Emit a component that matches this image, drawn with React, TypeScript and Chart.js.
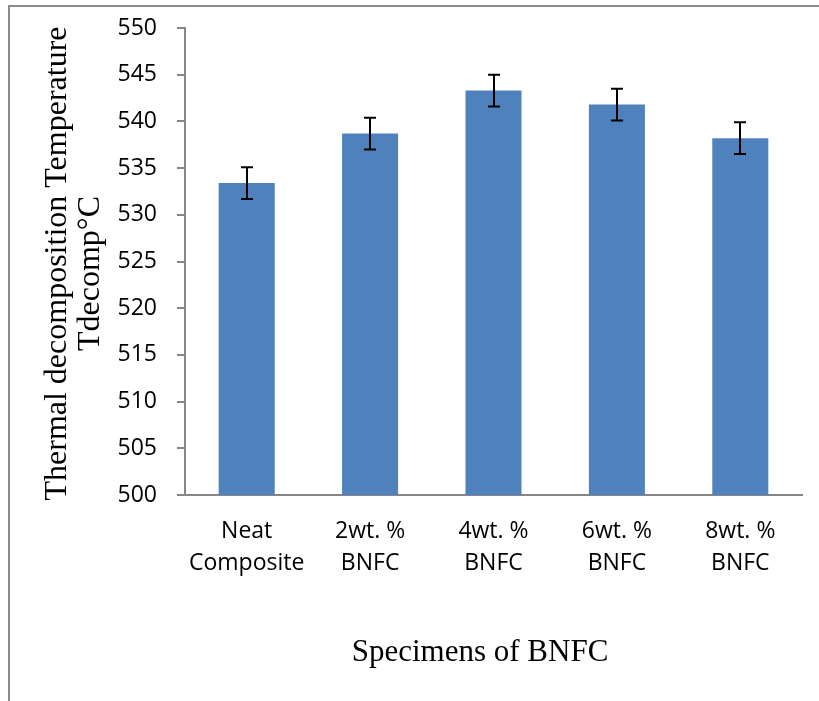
import React, { useEffect, useRef } from "react";
import { Chart, registerables } from "chart.js";

Chart.register(...registerables);

// Specimen groups (two-line category labels)
const categories: string[][] = [
  ["Neat", "Composite"],
  ["2wt. %", "BNFC"],
  ["4wt. %", "BNFC"],
  ["6wt. %", "BNFC"],
  ["8wt. %", "BNFC"],
];

// Thermal decomposition temperature (°C) and its error
const tdecomp: number[] = [533.4, 538.7, 543.3, 541.8, 538.2];
const tdecompError: number[] = [1.7, 1.7, 1.7, 1.7, 1.7];

// Y axis range
const yMin = 500;
const yMax = 550;
const yStep = 5;

const xTitle = "Specimens of BNFC";
const yTitleLines: string[] = ["Thermal decomposition Temperature", "Tdecomp°C"];

const AXIS_GRAY = "#868686";
const BAR_BLUE = "#4F81BD";
const SANS = "'Open Sans', 'Noto Sans', sans-serif";
const SERIF = "'Liberation Serif', 'DejaVu Serif', serif";

const errorBarPlugin = {
  id: "errorBars",
  afterDatasetsDraw(chart: any) {
    const { ctx } = chart;
    const meta = chart.getDatasetMeta(0);
    const yScale = chart.scales.y;
    ctx.save();
    ctx.strokeStyle = "#000";
    ctx.lineWidth = 2;
    meta.data.forEach((bar: any, i: number) => {
      const v = tdecomp[i];
      const e = tdecompError[i];
      const x = Math.round(bar.x);
      const yTop = yScale.getPixelForValue(v + e);
      const yBot = yScale.getPixelForValue(v - e);
      const cap = 6;
      ctx.beginPath();
      ctx.moveTo(x, yTop);
      ctx.lineTo(x, yBot);
      ctx.moveTo(x - cap, yTop);
      ctx.lineTo(x + cap, yTop);
      ctx.moveTo(x - cap, yBot);
      ctx.lineTo(x + cap, yBot);
      ctx.stroke();
    });
    ctx.restore();
  },
};

const titlesAndFramePlugin = {
  id: "titlesAndFrame",
  afterDraw(chart: any) {
    const { ctx, chartArea } = chart;
    ctx.save();
    // outer frame
    ctx.strokeStyle = "#8c8c8c";
    ctx.lineWidth = 2;
    ctx.beginPath();
    ctx.moveTo(9, chart.height + 5);
    ctx.lineTo(9, 6);
    ctx.lineTo(chart.width + 5, 6);
    ctx.stroke();

    // x axis title
    ctx.fillStyle = "#000";
    ctx.font = `31px ${SERIF}`;
    ctx.textAlign = "center";
    ctx.textBaseline = "alphabetic";
    ctx.fillText(xTitle, 480, 661);

    // y axis title (rotated, two lines)
    const midY = (chartArea.top + chartArea.bottom) / 2;
    ctx.font = `32px ${SERIF}`;
    ctx.save();
    ctx.translate(66, midY + 2);
    ctx.rotate(-Math.PI / 2);
    ctx.fillText(yTitleLines[0], 0, 0);
    ctx.restore();
    ctx.save();
    ctx.translate(99, midY + 12);
    ctx.rotate(-Math.PI / 2);
    ctx.fillText(yTitleLines[1], 0, 0);
    ctx.restore();
    ctx.restore();
  },
};

export default function App() {
  const canvasRef = useRef<HTMLCanvasElement | null>(null);

  useEffect(() => {
    document.body.style.margin = "0";
    const canvas = canvasRef.current;
    if (!canvas) return;
    const chart = new Chart(canvas, {
      type: "bar",
      data: {
        labels: categories,
        datasets: [
          {
            data: tdecomp,
            backgroundColor: BAR_BLUE,
            borderWidth: 0,
            barPercentage: 0.454,
            categoryPercentage: 1,
          },
        ],
      },
      options: {
        responsive: false,
        animation: false,
        devicePixelRatio: 1,
        layout: { padding: { top: 28, right: 17, bottom: 0, left: 0 } },
        plugins: {
          legend: { display: false },
          tooltip: { enabled: false },
          title: { display: false },
        },
        scales: {
          x: {
            grid: { display: false, drawTicks: false },
            border: { display: true, color: AXIS_GRAY, width: 2 },
            ticks: {
              color: "#000",
              padding: 20,
              maxRotation: 0,
              autoSkip: false,
              font: { family: SANS, size: 23, lineHeight: 32 / 23 },
            },
            afterFit(scale: any) {
              scale.height = 206;
            },
          },
          y: {
            min: yMin,
            max: yMax,
            grid: {
              display: true,
              drawOnChartArea: false,
              drawTicks: true,
              tickLength: 8,
              color: AXIS_GRAY,
              lineWidth: 2,
            },
            border: { display: true, color: AXIS_GRAY, width: 2 },
            ticks: {
              stepSize: yStep,
              color: "#000",
              padding: 20,
              font: { family: SANS, size: 23, lineHeight: 0.6 },
            },
            afterFit(scale: any) {
              scale.width = 185;
            },
          },
        },
      },
      plugins: [errorBarPlugin, titlesAndFramePlugin],
    });
    return () => chart.destroy();
  }, []);

  return (
    <canvas
      ref={canvasRef}
      width={819}
      height={701}
      style={{ display: "block", width: 819, height: 701 }}
    />
  );
}
